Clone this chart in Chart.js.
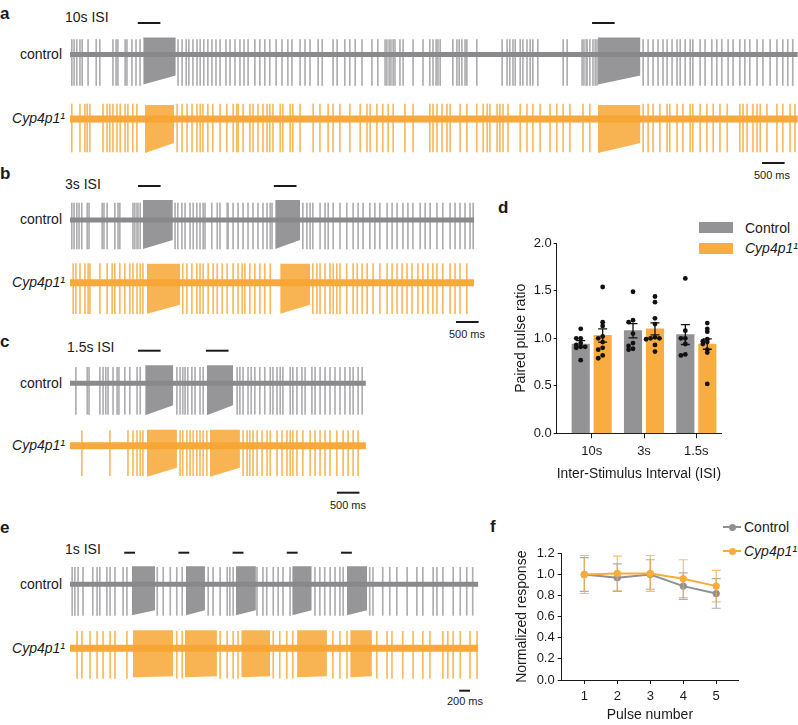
<!DOCTYPE html>
<html>
<head>
<meta charset="utf-8">
<script src="https://cdn.jsdelivr.net/npm/chart.js@4.4.1/dist/chart.umd.min.js"></script>
<style>
body { margin: 0; background: #fff; width: 798px; height: 725px; position: relative; overflow: hidden;
       font-family: "Liberation Sans", Arial, sans-serif; color: #1a1a1a; }
canvas { position: absolute; }
.t { position: absolute; white-space: nowrap; line-height: 1; transform: translateY(-50%); font-size: 14px; }
.r { transform: translate(-100%, -50%); }
.c { transform: translate(-50%, -50%); }
.lt { font-weight: bold; font-size: 17px; }
.sb { font-size: 11px; }
.box { position: absolute; }
</style>
</head>
<body>
<!-- panel letters and labels -->
<div class="t lt" style="left:0px;top:13px">a</div>
<div class="t" style="left:65px;top:17px">10s ISI</div>
<div class="t r" style="left:62px;top:54px">control</div>
<div class="t r" style="left:65px;top:118px"><i>Cyp4p1¹</i></div>
<div class="t c sb" style="left:772px;top:175px">500 ms</div>

<div class="t lt" style="left:0px;top:173px">b</div>
<div class="t" style="left:65px;top:184px">3s ISI</div>
<div class="t r" style="left:62px;top:219px">control</div>
<div class="t r" style="left:65px;top:282px"><i>Cyp4p1¹</i></div>
<div class="t c sb" style="left:467px;top:334px">500 ms</div>

<div class="t lt" style="left:0px;top:341px">c</div>
<div class="t" style="left:67px;top:347px">1.5s ISI</div>
<div class="t r" style="left:62px;top:383px">control</div>
<div class="t r" style="left:65px;top:445px"><i>Cyp4p1¹</i></div>
<div class="t c sb" style="left:348px;top:505px">500 ms</div>

<div class="t lt" style="left:0px;top:527px">e</div>
<div class="t" style="left:65px;top:549px">1s ISI</div>
<div class="t r" style="left:62px;top:584px">control</div>
<div class="t r" style="left:65px;top:648px"><i>Cyp4p1¹</i></div>
<div class="t c sb" style="left:465px;top:701px">200 ms</div>

<div class="t lt" style="left:498px;top:207px">d</div>
<div class="box" style="left:699px;top:222px;width:34px;height:11px;background:#939396"></div>
<div class="t" style="left:745px;top:228px">Control</div>
<div class="box" style="left:699px;top:243px;width:34px;height:11px;background:#f9ad40"></div>
<div class="t" style="left:745px;top:248px"><i>Cyp4p1¹</i></div>

<div class="t lt" style="left:490px;top:526px">f</div>
<div class="box" style="left:723px;top:526px;width:18px;height:2px;background:#909093"></div>
<div class="box" style="left:729px;top:524px;width:7px;height:7px;border-radius:50%;background:#909093"></div>
<div class="t" style="left:744px;top:527px">Control</div>
<div class="box" style="left:723px;top:550px;width:18px;height:2px;background:#f9ab3c"></div>
<div class="box" style="left:729px;top:548px;width:7px;height:7px;border-radius:50%;background:#f9ab3c"></div>
<div class="t" style="left:744px;top:551px"><i>Cyp4p1¹</i></div>

<canvas id="ca" width="728" height="170" style="left:70px;top:10px"></canvas>
<canvas id="cb" width="420" height="155" style="left:70px;top:175px"></canvas>
<canvas id="cc" width="300" height="160" style="left:70px;top:340px"></canvas>
<canvas id="ce" width="410" height="150" style="left:70px;top:545px"></canvas>
<canvas id="cd" width="240" height="275" style="left:490px;top:215px"></canvas>
<canvas id="cf" width="262" height="185" style="left:480px;top:540px"></canvas>

<script>
// ---- spike times (s), bursts [start, end, top, bottom at start, bottom at end], amplitudes [up, down]
const aStim = [1.5, 11.55];
const aCtrlSpikes = [0.04,0.09,0.15,0.22,0.27,0.40,0.58,0.66,0.95,1.02,1.06,1.22,1.26,1.37,1.46,1.55,
  2.39,2.48,2.57,2.63,2.72,2.81,2.88,2.96,3.05,3.14,3.23,3.32,3.45,3.54,3.65,3.76,3.85,3.94,4.09,4.20,4.31,4.42,
  4.56,4.69,4.82,4.91,5.09,5.20,5.31,5.49,5.58,5.82,5.91,6.08,6.19,6.31,6.46,6.68,6.81,6.97,7.01,7.06,7.10,7.15,
  7.19,7.30,7.37,7.59,7.81,7.96,8.03,8.10,8.14,8.19,8.47,8.56,8.61,8.67,8.74,8.78,9.00,9.56,9.67,9.73,9.80,9.85,
  9.96,10.02,10.11,10.18,10.24,10.35,10.91,11.00,11.33,11.37,11.42,11.44,11.50,11.57,11.62,11.66,
  12.68,12.79,12.90,13.01,13.12,13.21,13.32,13.43,13.50,13.61,13.72,13.78,13.94,14.05,14.20,14.31,14.42,14.56,
  14.67,14.82,14.93,15.04,15.20,15.33,15.49,15.64,15.77,15.88,15.99];
const aCtrlBursts = [[1.62, 2.34, 17, 30, 21], [11.68, 12.62, 17, 30, 21]];
const aCtrlAmp = [15, 31];
const aCypSpikes = [0.04,0.22,0.33,0.38,0.44,0.73,0.82,0.88,0.95,1.04,1.11,1.22,1.28,1.39,1.48,
  2.37,2.48,2.59,2.70,2.81,2.88,2.94,3.05,3.16,3.32,3.47,3.61,3.69,3.72,3.83,3.98,4.05,4.16,4.27,4.36,4.42,4.49,
  4.65,4.71,4.87,4.93,5.09,5.38,5.53,5.71,5.82,5.97,6.19,6.42,6.57,6.64,6.79,6.92,7.04,7.15,
  7.41,7.59,7.96,8.03,8.12,8.23,8.34,8.41,8.63,8.78,9.00,9.14,9.23,9.29,9.45,9.51,9.58,9.69,9.96,10.11,10.24,
  10.40,10.62,10.77,10.91,11.06,11.35,11.50,
  12.68,12.79,12.90,13.05,13.21,13.27,13.43,13.56,13.72,13.78,13.94,14.09,14.23,14.38,14.54,14.82,14.89,14.98,
  15.11,15.20,15.27,15.42,15.64,15.77,15.93,16.04];
const aCypBursts = [[1.66, 2.30, 14, 34, 24], [11.68, 12.62, 14, 34, 24]];
const aCypAmp = [15, 33];

const bStim = [1.5, 4.5];
const bCtrlSpikes = [0.04,0.09,0.15,0.20,0.26,0.38,0.42,0.71,0.75,0.82,0.99,1.06,1.10,1.39,1.43,1.48,1.50,1.55,
  2.32,2.38,2.47,2.54,2.65,2.72,2.80,2.87,2.94,2.98,3.13,3.25,3.31,3.47,3.49,3.60,3.71,3.82,3.93,4.04,4.15,4.26,
  4.35,4.42,4.46,
  5.14,5.23,5.30,5.36,5.52,5.63,5.70,5.81,5.96,6.11,6.25,6.36,6.47,6.62,6.73,6.84,7.00,7.11,7.22,7.35,7.46,7.57,
  7.73,7.84,7.95,8.10,8.23,8.39,8.50,8.61,8.72,8.83,8.90];
const bCtrlBursts = [[1.61, 2.27, 20, 29, 20], [4.53, 5.08, 20, 29, 20]];
const bCtrlAmp = [17, 29];
const bCypSpikes = [0.07,0.13,0.22,0.33,0.40,0.44,0.66,0.82,0.93,0.99,1.10,1.21,1.32,1.39,1.48,1.55,1.61,
  2.49,2.58,2.69,2.80,2.87,2.94,3.05,3.16,3.25,3.36,3.47,3.60,3.71,3.80,3.86,3.97,4.08,4.19,4.30,4.42,
  5.36,5.45,5.52,5.63,5.74,5.81,5.89,5.96,6.11,6.25,6.34,6.45,6.56,6.69,6.84,7.00,7.11,7.22,7.33,7.44,7.55,
  7.68,7.79,7.90,8.01,8.10,8.23,8.39,8.50,8.61,8.76];
const bCypBursts = [[1.70, 2.43, 19, 31, 22], [4.64, 5.30, 19, 31, 22]];
const bCypAmp = [19, 31];

const cStim = [1.5, 3.0];
const cCtrlSpikes = [0.13,0.38,0.42,0.66,0.73,0.79,0.84,0.95,1.04,1.08,1.21,1.32,1.48,1.55,
  2.36,2.43,2.49,2.54,2.60,2.69,2.76,2.87,2.94,
  3.69,3.75,3.82,3.93,4.00,4.08,4.19,4.30,4.42,4.48,4.57,4.64,4.70,4.86,4.92,5.01,5.12,5.19,5.34,5.41,5.52,
  5.63,5.74,5.85,5.96,6.07,6.18,6.25,6.36,6.45];
const cCtrlBursts = [[1.66, 2.28, 18, 32, 22], [3.02, 3.60, 18, 32, 22]];
const cCtrlAmp = [16, 31];
const cCypSpikes = [0.26,0.88,1.28,1.39,1.48,1.55,1.61,
  2.43,2.49,2.58,2.65,2.72,2.80,2.87,2.94,3.02,
  3.82,3.91,3.97,4.04,4.13,4.24,4.35,4.42,4.57,4.68,4.79,4.86,4.92,5.01,5.14,5.30,5.41,5.52,5.63,5.74,5.89,
  6.03,6.14,6.25,6.36];
const cCypBursts = [[1.70, 2.36, 16, 31, 22], [3.09, 3.75, 16, 31, 22]];
const cCypAmp = [15, 30];

const eStim = [1.0, 2.0, 3.0, 4.0, 5.0];
const eCtrlSpikes = [0.04,0.09,0.15,0.24,0.42,0.50,0.55,0.68,0.74,0.83,0.98,1.05,
  1.61,1.72,1.85,1.97,2.07, 2.55,2.64,2.77,2.90,2.95,3.01, 3.45,3.56,3.63,3.75,3.84,3.93,4.06,
  4.52,4.61,4.70,4.80,4.89,4.98,5.04, 5.53,5.59,5.77,5.90,6.03,6.22,6.40,6.51,6.70,6.77,6.88,7.07,7.20,7.32,7.43];
const eCtrlBursts = [[1.14,1.57,18,31,26],[2.14,2.49,18,31,26],[3.06,3.43,18,31,26],[4.10,4.46,18,31,26],[5.11,5.48,18,31,26]];
const eCtrlAmp = [17, 31];
const eCypSpikes = [0.13,0.22,0.37,0.50,0.61,0.74,0.83,1.05, 1.97,2.07, 2.77,2.90,3.01,3.10,
  3.75,3.87,4.00,4.11, 4.85,4.98,5.11, 5.66,5.85,5.94,6.14,6.33,6.51,6.64,6.88,6.97,7.07,7.20,7.38,7.51];
const eCypBursts = [[1.16,1.90,18,29,28],[2.12,2.71,18,29,28],[3.16,3.69,18,29,28],[4.19,4.74,18,29,28],[5.17,5.57,18,29,28]];
const eCypAmp = [17, 30];

// ---- panel d: paired pulse ratio
const dCats = ['10s', '3s', '1.5s'];
const dYTicks = [0, 0.5, 1.0, 1.5, 2.0];
const dCtrlMean = [0.94, 1.08, 1.04];
const dCtrlSem = [0.035, 0.075, 0.105];
const dCypMean = [1.03, 1.10, 0.94];
const dCypSem = [0.07, 0.063, 0.055];
const dCtrlPts = [[1.10,1.00,1.00,0.95,0.93,0.91,0.91,0.90,0.77],
                  [1.49,1.19,1.17,1.05,0.95,0.92,0.89,0.88],
                  [1.63,1.08,1.00,1.00,0.94,0.83,0.82]];
const dCypPts = [[1.54,1.17,1.13,1.02,1.00,0.96,0.90,0.88,0.82,0.79],
                 [1.44,1.38,1.21,1.15,1.01,1.00,1.00,0.99,0.93,0.86],
                 [1.16,1.10,1.07,0.99,0.97,0.96,0.94,0.88,0.85,0.52]];

// ---- panel f: normalized response
const fPulses = [1, 2, 3, 4, 5];
const fYTicks = [0, 0.2, 0.4, 0.6, 0.8, 1.0, 1.2];
const fCtrl = [1.00, 0.97, 1.00, 0.89, 0.82];
const fCtrlErr = [0.16, 0.13, 0.14, 0.125, 0.14];
const fCyp = [1.00, 1.01, 1.01, 0.96, 0.89];
const fCypErr = [0.18, 0.165, 0.17, 0.18, 0.15];

Chart.defaults.font.family = '"Liberation Sans", Arial, sans-serif';
Chart.defaults.color = '#1a1a1a';

const GRAY = { base: '#8a8a8d', spike: '#aeaeb1', burst: 'rgba(136,136,139,0.88)', w: 5 };
const ORANGE = { base: '#f7a93c', spike: '#fab95c', burst: 'rgba(247,166,52,0.85)', w: 7 };
const INK = '#1a1a1a';

function tracePanel(p) {
  const ds = [];
  const spikes = [];
  const traces = [[p.ctrl, GRAY, p.ctrlBase], [p.cyp, ORANGE, p.cypBase]];
  traces.forEach(([tr, col, base]) => {
    tr.spikes.forEach(t => spikes.push({ x: t, y: [-base - tr.amp[1], -base + tr.amp[0]], c: col.spike }));
  });
  ds.push({ type: 'bar', data: spikes, backgroundColor: c => (c.raw ? c.raw.c : '#999'),
            barThickness: 1, grouped: false, borderWidth: 0, order: 5 });
  traces.forEach(([tr, col, base]) => {
    ds.push({ type: 'line', data: [{ x: 0, y: -base }, { x: p.dur, y: -base }], borderColor: col.base,
              borderWidth: col.w, pointRadius: 0, order: 3 });
    tr.bursts.forEach(b => {
      ds.push({ type: 'line', data: [{ x: b[0], y: -base + b[2] }, { x: b[1], y: -base + b[2] }],
                borderWidth: 0, pointRadius: 0, fill: false, order: 2 });
      ds.push({ type: 'line', data: [{ x: b[0], y: -base - b[3] }, { x: b[1], y: -base - b[4] }],
                borderWidth: 0, pointRadius: 0, fill: '-1', backgroundColor: col.burst, order: 2 });
    });
  });
  p.stim.forEach(t => {
    ds.push({ type: 'line', data: [{ x: t, y: -p.stimY }, { x: t + p.stimLen, y: -p.stimY }],
              borderColor: INK, borderWidth: 2, pointRadius: 0, order: 0 });
  });
  ds.push({ type: 'line', data: [{ x: p.scaleT, y: -p.scaleY }, { x: p.scaleT + p.scaleLen, y: -p.scaleY }],
            borderColor: INK, borderWidth: 2, pointRadius: 0, order: 0 });

  const cv = document.getElementById(p.id);
  new Chart(cv, {
    type: 'bar',
    data: { datasets: ds },
    options: {
      responsive: false, animation: false, events: [],
      layout: { padding: 0 },
      plugins: { legend: { display: false }, tooltip: { enabled: false } },
      scales: {
        x: { type: 'linear', min: 0, max: cv.width / p.pxs, display: false, offset: false, grid: { offset: false } },
        y: { min: -cv.height, max: 0, display: false }
      }
    }
  });
}

tracePanel({ id: 'ca', pxs: 45.2, ctrlBase: 44.5, cypBase: 109, stimY: 13, scaleY: 153, dur: 16.1,
  stim: aStim, stimLen: 0.5, scaleT: 15.31, scaleLen: 0.5,
  ctrl: { spikes: aCtrlSpikes, bursts: aCtrlBursts, amp: aCtrlAmp },
  cyp: { spikes: aCypSpikes, bursts: aCypBursts, amp: aCypAmp } });
tracePanel({ id: 'cb', pxs: 45.3, ctrlBase: 45, cypBase: 107.7, stimY: 11, scaleY: 147, dur: 8.92,
  stim: bStim, stimLen: 0.5, scaleT: 8.52, scaleLen: 0.5,
  ctrl: { spikes: bCtrlSpikes, bursts: bCtrlBursts, amp: bCtrlAmp },
  cyp: { spikes: bCypSpikes, bursts: bCypBursts, amp: bCypAmp } });
tracePanel({ id: 'cc', pxs: 45.3, ctrlBase: 43.3, cypBase: 105.7, stimY: 10.7, scaleY: 152.7, dur: 6.53,
  stim: cStim, stimLen: 0.5, scaleT: 5.89, scaleLen: 0.5,
  ctrl: { spikes: cCtrlSpikes, bursts: cCtrlBursts, amp: cCtrlAmp },
  cyp: { spikes: cCypSpikes, bursts: cCypBursts, amp: cCypAmp } });
tracePanel({ id: 'ce', pxs: 54.2, ctrlBase: 39.3, cypBase: 103.3, stimY: 7.7, scaleY: 145.7, dur: 7.53,
  stim: eStim, stimLen: 0.2, scaleT: 7.18, scaleLen: 0.2,
  ctrl: { spikes: eCtrlSpikes, bursts: eCtrlBursts, amp: eCtrlAmp },
  cyp: { spikes: eCypSpikes, bursts: eCypBursts, amp: eCypAmp } });

// error bars drawn through the chart scales
function errPlugin(hook) {
  return {
    id: 'err' + hook,
    [hook](chart, args) {
      const ds = chart.data.datasets[args.index];
      if (!ds.err) return;
      const ctx = chart.ctx, xs = chart.scales.x, ys = chart.scales.y;
      ctx.save();
      ctx.strokeStyle = ds.errColor;
      ctx.lineWidth = ds.errWidth;
      ds.data.forEach((d, i) => {
        const x = xs.getPixelForValue(d.x);
        const hi = ys.getPixelForValue(d.y + ds.err[i]);
        const lo = ys.getPixelForValue(d.y - ds.err[i]);
        ctx.beginPath();
        ctx.moveTo(x, lo); ctx.lineTo(x, hi);
        ctx.moveTo(x - ds.cap, hi); ctx.lineTo(x + ds.cap, hi);
        ctx.moveTo(x - ds.cap, lo); ctx.lineTo(x + ds.cap, lo);
        ctx.stroke();
      });
      ctx.restore();
    }
  };
}

// simple beeswarm so equal values sit side by side
function swarm(groups, shift) {
  const out = [];
  groups.forEach((vals, i) => {
    const placed = [];
    vals.forEach(v => {
      const near = placed.filter(q => Math.abs(q.v - v) < 0.03).map(q => q.k);
      const k = [0, -1, 1, -2, 2, -3, 3].find(s => !near.includes(s));
      placed.push({ v, k });
      out.push({ x: i + shift + k * 0.085, y: v });
    });
  });
  return out;
}

const axisStyle = {
  grid: { drawOnChartArea: false, tickLength: 4, tickColor: INK, offset: false },
  border: { color: INK, width: 1 }
};

new Chart(document.getElementById('cd'), {
  type: 'bar',
  data: {
    datasets: [
      { type: 'scatter', data: swarm(dCtrlPts, -0.21), backgroundColor: '#111', pointRadius: 2.4, borderWidth: 0 },
      { type: 'scatter', data: swarm(dCypPts, 0.21), backgroundColor: '#111', pointRadius: 2.4, borderWidth: 0 },
      { type: 'bar', label: 'Control', data: dCtrlMean.map((m, i) => ({ x: i - 0.21, y: m })),
        backgroundColor: '#939396', barThickness: 17.5, grouped: false,
        err: dCtrlSem, errColor: '#111', errWidth: 1.3, cap: 4.5 },
      { type: 'bar', label: 'Cyp4p1', data: dCypMean.map((m, i) => ({ x: i + 0.21, y: m })),
        backgroundColor: '#f9ad40', barThickness: 17.5, grouped: false,
        err: dCypSem, errColor: '#111', errWidth: 1.3, cap: 4.5 }
    ]
  },
  options: {
    responsive: false, animation: false, events: [],
    layout: { padding: { top: 28.3, right: 9, left: 0, bottom: 0 } },
    plugins: { legend: { display: false }, tooltip: { enabled: false } },
    scales: {
      x: { type: 'linear', min: -0.669, max: 2.472, offset: false, ...axisStyle,
           grid: { ...axisStyle.grid, tickLength: 5 },
           afterFit: s => { s.height = 56.7; },
           afterBuildTicks: s => { s.ticks = dCats.map((c, i) => ({ value: i })); },
           ticks: { callback: v => dCats[v], font: { size: 13 }, padding: 5, maxRotation: 0 },
           title: { display: true, text: 'Inter-Stimulus Interval (ISI)', font: { size: 14 }, padding: { top: 0, bottom: 7.6 } } },
      y: { min: 0, max: 2, ...axisStyle,
           grid: { ...axisStyle.grid, tickLength: 3 },
           afterFit: s => { s.width = 66.7; },
           afterBuildTicks: s => { s.ticks = dYTicks.map(v => ({ value: v })); },
           ticks: { callback: v => v.toFixed(1), font: { size: 13 }, padding: 2 },
           title: { display: true, text: 'Paired pulse ratio', font: { size: 14 }, padding: { top: 22.6, bottom: 0 } } }
    }
  },
  plugins: [errPlugin('afterDatasetDraw')]
});

new Chart(document.getElementById('cf'), {
  type: 'line',
  data: {
    datasets: [
      { label: 'Cyp4p1', data: fPulses.map((p, i) => ({ x: p, y: fCyp[i] })), borderColor: '#f9ab3c',
        backgroundColor: '#f9ab3c', borderWidth: 2, pointRadius: 3.6, pointBorderWidth: 0,
        err: fCypErr, errColor: 'rgba(247,168,60,0.75)', errWidth: 1.2, cap: 4.5 },
      { label: 'Control', data: fPulses.map((p, i) => ({ x: p, y: fCtrl[i] })), borderColor: '#909093',
        backgroundColor: '#909093', borderWidth: 2, pointRadius: 3.6, pointBorderWidth: 0,
        err: fCtrlErr, errColor: 'rgba(140,140,143,0.7)', errWidth: 1.2, cap: 4.5 }
    ]
  },
  options: {
    responsive: false, animation: false, events: [],
    layout: { padding: { top: 13.4, right: 4, left: 0, bottom: 0 } },
    plugins: { legend: { display: false }, tooltip: { enabled: false } },
    scales: {
      x: { type: 'linear', min: 0.315, max: 5.66, ...axisStyle,
           afterFit: s => { s.height = 45; },
           afterBuildTicks: s => { s.ticks = fPulses.map(v => ({ value: v })); },
           ticks: { font: { size: 13 }, padding: 5 },
           title: { display: true, text: 'Pulse number', font: { size: 14 }, padding: { top: 0, bottom: 1.6 } } },
      y: { min: 0, max: 1.2, ...axisStyle,
           afterFit: s => { s.width = 81.7; },
           afterBuildTicks: s => { s.ticks = fYTicks.map(v => ({ value: v })); },
           ticks: { callback: v => v.toFixed(1), font: { size: 13 }, padding: 3 },
           title: { display: true, text: 'Normalized response', font: { size: 14 }, padding: { top: 33.6, bottom: 0 } } }
    }
  },
  plugins: [errPlugin('beforeDatasetDraw')]
});
</script>
</body>
</html>
